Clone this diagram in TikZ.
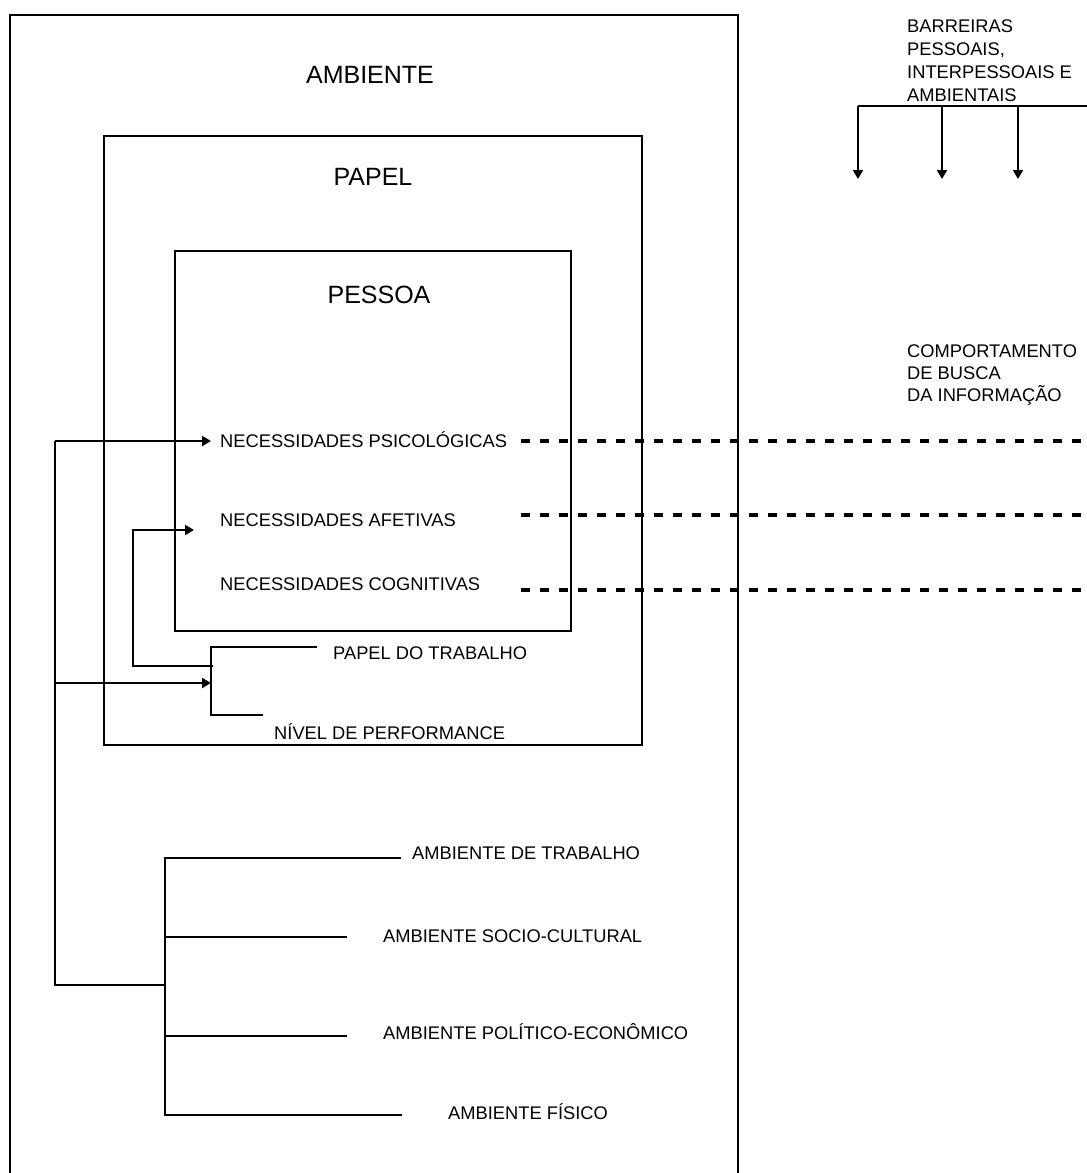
\documentclass[tikz,border=0pt]{standalone}
\usepackage{fontspec}
\setmainfont{Liberation Sans}
\usetikzlibrary{arrows.meta}
\begin{document}
\begin{tikzpicture}[x=1pt,y=-1pt,
  solid line/.style={line width=2pt},
  arr/.style={line width=2pt,-{Triangle[length=9pt,width=10pt]}},
  dash line/.style={line width=3.6pt,dash pattern=on 9pt off 10pt},
  lbl/.style={inner sep=0pt,anchor=base west,font=\fontsize{18.3}{22}\selectfont},
  head/.style={inner sep=0pt,anchor=base,font=\fontsize{25}{30}\selectfont}]
\useasboundingbox (0,0) rectangle (1087,1173);

% nested frames: environment (open at the bottom), role, person
\coordinate (ambBL) at (10,1173);
\coordinate (ambTL) at (10,15);
\coordinate (ambTR) at (738,15);
\coordinate (ambBR) at (738,1173);
\draw[solid line] (ambBL) -- (ambTL) -- (ambTR) -- (ambBR);
\coordinate (papNW) at (104,136);
\coordinate (papSE) at (642,745);
\draw[solid line] (papNW) rectangle (papSE);
\coordinate (pesNW) at (175,251);
\coordinate (pesSE) at (571,631);
\draw[solid line] (pesNW) rectangle (pesSE);

% frame titles
\node[head] (tAmb) at (370,83) {AMBIENTE};
\node[head] (tPap) at (373,185) {PAPEL};
\node[head] (tPes) at (379,303) {PESSOA};

% barriers
\node[lbl] (bar1) at (907,32) {BARREIRAS};
\node[lbl] (bar2) at (907,55) {PESSOAIS,};
\node[lbl] (bar3) at (907,78) {INTERPESSOAIS E};
\node[lbl] (bar4) at (907,101) {AMBIENTAIS};
\coordinate (barR) at (1087,106);
\coordinate (barA) at (858,106);
\coordinate (barB) at (942,106);
\coordinate (barC) at (1018,106);
\coordinate (barAe) at (858,179);
\coordinate (barBe) at (942,179);
\coordinate (barCe) at (1018,179);
\draw[solid line] (barR) -- (barA);
\draw[arr] (barA) -- (barAe);
\draw[arr] (barB) -- (barBe);
\draw[arr] (barC) -- (barCe);

% information seeking behaviour
\node[lbl] (cb1) at (907,357) {COMPORTAMENTO};
\node[lbl] (cb2) at (907,379) {DE BUSCA};
\node[lbl] (cb3) at (907,401) {DA INFORMAÇÃO};

% needs
\node[lbl] (nPsi) at (220,447) {NECESSIDADES PSICOLÓGICAS};
\node[lbl] (nAfe) at (220,526) {NECESSIDADES AFETIVAS};
\node[lbl] (nCog) at (220,590) {NECESSIDADES COGNITIVAS};
\coordinate (dPsiA) at (521,441);
\coordinate (dPsiB) at (1087,441);
\coordinate (dAfeA) at (521,515);
\coordinate (dAfeB) at (1087,515);
\coordinate (dCogA) at (521,590);
\coordinate (dCogB) at (1087,590);
\draw[dash line] (dPsiA) -- (dPsiB);
\draw[dash line] (dAfeA) -- (dAfeB);
\draw[dash line] (dCogA) -- (dCogB);

% role items
\node[lbl] (rTrab) at (333,659) {PAPEL DO TRABALHO};
\node[lbl] (rPerf) at (274,739) {NÍVEL DE PERFORMANCE};
\coordinate (brT) at (211,647);
\coordinate (brB) at (211,715);
\coordinate (brTe) at (317,647);
\coordinate (brBe) at (263,715);
\draw[solid line] (brTe) -- (brT) -- (brB) -- (brBe);

% role feeds the affective needs
\coordinate (afS) at (213,666);
\coordinate (afC) at (133,666);
\coordinate (afU) at (133,530);
\coordinate (afE) at (194,530);
\draw[arr] (afS) -- (afC) -- (afU) -- (afE);

% environment items
\node[lbl] (eTrab) at (412,859) {AMBIENTE DE TRABALHO};
\node[lbl] (eSoc) at (383,942) {AMBIENTE SOCIO-CULTURAL};
\node[lbl] (ePol) at (383,1039) {AMBIENTE POLÍTICO-ECONÔMICO};
\node[lbl] (eFis) at (448,1119) {AMBIENTE FÍSICO};
\coordinate (ev1) at (165,858);
\coordinate (ev2) at (165,937);
\coordinate (ev3) at (165,1036);
\coordinate (ev4) at (165,1115);
\coordinate (ev1e) at (401,858);
\coordinate (ev2e) at (347,937);
\coordinate (ev3e) at (347,1036);
\coordinate (ev4e) at (402,1115);
\coordinate (evM) at (165,985);
\draw[solid line] (ev1e) -- (ev1) -- (ev4) -- (ev4e);
\draw[solid line] (ev2) -- (ev2e);
\draw[solid line] (ev3) -- (ev3e);

% environment feeds the role and the psychological needs
\coordinate (lBot) at (55,985);
\coordinate (lMid) at (55,683);
\coordinate (lTop) at (55,441);
\coordinate (lMidE) at (211,683);
\coordinate (lTopE) at (211,441);
\draw[solid line] (evM) -- (lBot) -- (lTop);
\draw[arr] (lTop) -- (lTopE);
\draw[arr] (lMid) -- (lMidE);
\end{tikzpicture}
\end{document}
